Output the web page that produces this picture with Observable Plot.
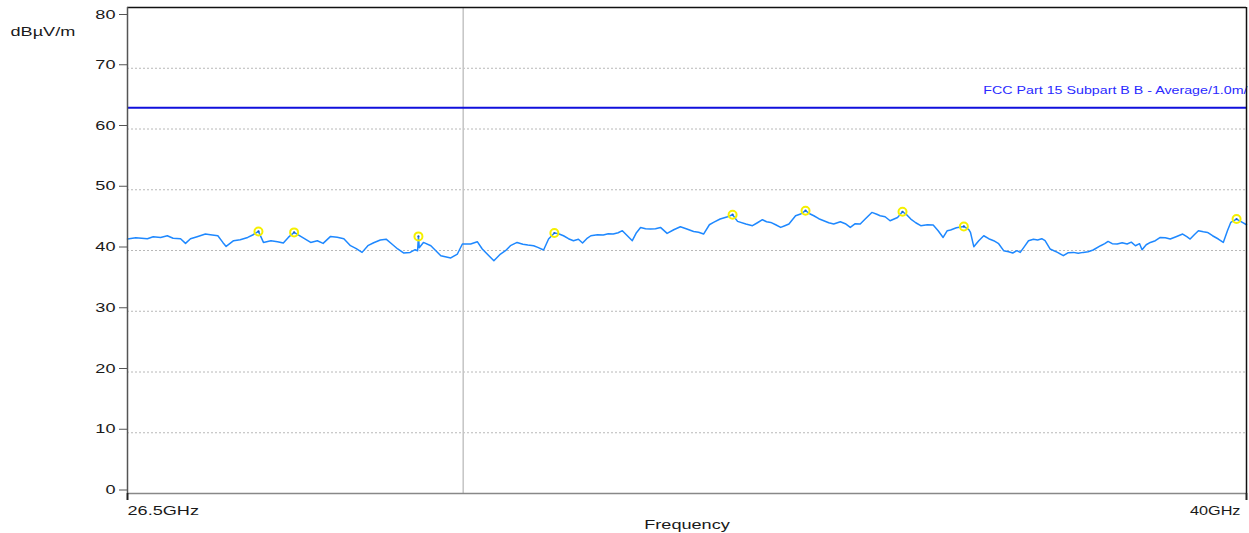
<!DOCTYPE html>
<html>
<head>
<meta charset="utf-8">
<script src="https://cdn.jsdelivr.net/npm/d3@7"></script>
<script src="https://cdn.jsdelivr.net/npm/@observablehq/plot@0.6"></script>
<style>
  html, body { margin: 0; padding: 0; background: #fff; }
  #chart svg { display: block; overflow: visible; }
</style>
</head>
<body>
<div id="chart"></div>
<script>
// Measured trace (GHz, dBµV/m)
const freqGHz = [26.50,26.60,26.74,26.81,26.90,26.98,27.05,27.14,27.20,27.26,27.34,27.44,27.50,27.59,27.65,27.69,27.78,27.86,27.95,28.01,28.08,28.14,28.23,28.31,28.38,28.44,28.51,28.61,28.71,28.79,28.86,28.95,29.03,29.11,29.19,29.26,29.33,29.40,29.47,29.55,29.62,29.70,29.76,29.83,29.91,29.97,30.00,30.01,30.02,30.07,30.16,30.22,30.28,30.40,30.48,30.54,30.64,30.72,30.78,30.86,30.92,31.00,31.06,31.12,31.20,31.27,31.33,31.40,31.45,31.52,31.58,31.65,31.70,31.76,31.82,31.88,31.94,31.99,32.04,32.09,32.17,32.24,32.30,32.36,32.42,32.47,32.53,32.59,32.64,32.69,32.75,32.81,32.87,32.93,33.01,33.09,33.17,33.24,33.33,33.39,33.45,33.52,33.57,33.65,33.74,33.80,33.86,33.96,34.04,34.10,34.16,34.21,34.26,34.32,34.38,34.43,34.48,34.56,34.62,34.68,34.73,34.78,34.84,34.90,34.96,35.02,35.10,35.16,35.22,35.28,35.34,35.40,35.48,35.54,35.58,35.64,35.70,35.79,35.85,35.90,35.95,36.01,36.07,36.15,36.22,36.28,36.34,36.39,36.43,36.50,36.59,36.65,36.67,36.71,36.77,36.83,36.89,36.95,37.01,37.07,37.13,37.18,37.23,37.27,37.32,37.37,37.43,37.48,37.53,37.57,37.63,37.72,37.79,37.85,37.91,37.97,38.03,38.09,38.15,38.24,38.29,38.33,38.38,38.44,38.50,38.56,38.61,38.66,38.71,38.74,38.79,38.84,38.90,38.96,39.02,39.08,39.15,39.23,39.28,39.32,39.37,39.42,39.48,39.53,39.59,39.66,39.72,39.77,39.81,39.88,39.95,40.00];
const levelDb = [41.89,42.11,41.94,42.27,42.15,42.43,42.02,41.94,41.17,41.94,42.27,42.71,42.60,42.43,41.33,40.67,41.61,41.78,42.15,42.55,43.14,41.33,41.61,41.45,41.23,42.15,42.98,42.15,41.33,41.61,41.17,42.32,42.19,41.94,40.79,40.30,39.69,40.79,41.28,41.73,41.86,40.95,40.25,39.59,39.69,40.13,39.97,42.32,40.46,41.33,40.79,39.97,39.14,38.77,39.42,41.07,41.07,41.45,40.25,39.14,38.32,39.42,39.97,40.79,41.33,41.04,40.90,40.79,40.51,40.08,41.89,42.88,42.76,42.43,41.94,41.61,41.86,41.23,41.94,42.43,42.60,42.55,42.76,42.71,42.93,43.26,42.43,41.61,42.93,43.80,43.59,43.54,43.59,43.80,42.81,43.42,43.91,43.59,43.14,43.01,42.71,44.24,44.62,45.18,45.56,45.89,44.79,44.36,44.08,44.57,45.07,44.74,44.62,44.24,43.80,44.08,44.36,45.72,46.00,46.55,46.05,45.72,45.23,44.90,44.57,44.36,44.74,44.41,43.80,44.41,44.36,45.18,46.27,45.97,45.72,45.56,44.90,45.44,46.38,45.89,45.18,44.57,44.08,44.24,44.19,43.26,42.15,43.26,43.37,43.75,43.96,43.42,42.98,40.63,41.61,42.43,41.94,41.61,41.12,39.97,39.80,39.59,39.97,39.69,40.63,41.61,41.86,41.73,41.94,41.61,40.25,39.69,39.14,39.64,39.69,39.56,39.69,39.80,40.08,40.79,41.12,41.50,41.12,41.07,41.28,41.07,41.37,40.79,41.12,40.13,40.95,41.33,41.61,42.15,42.11,41.89,42.27,42.71,42.27,41.89,42.60,43.26,43.09,42.98,42.43,41.89,41.33,43.26,44.62,45.18,44.62,44.24];

// Peak markers
const peakFreq = [28.08,28.51,30.01,31.65,33.80,34.68,35.85,36.59,39.88];
const peakLevel = [43.14,42.98,42.32,42.88,45.89,46.55,46.38,43.96,45.18];

// Limit line
const limitLevel = 63.5;
const limitLabel = "FCC Part 15 Subpart B B - Average/1.0m/";

// Cursor line
const cursorFreq = 30.55;

// Axis ticks
const yTicks = [0,10,20,30,40,50,60,70];
const yTopTick = [80];
const gridTicks = [10,20,30,40,50,60,70];
const xTicks = [26.5, 40];
const xTickLabels = ["26.5GHz", "40GHz"];
const yUnit = "dBµV/m";
const xTitle = "Frequency";

const trace = freqGHz.map((f, i) => ({f, v: levelDb[i]}));
const peaks = peakFreq.map((f, i) => ({f, v: peakLevel[i]}));

const font = "'Liberation Sans', Arial, sans-serif";
const fs = 12.5;

const plot = Plot.plot({
  width: 1249,
  height: 533,
  marginLeft: 127,
  marginRight: 3,
  marginTop: 7,
  marginBottom: 40,
  style: {fontFamily: font, fontSize: fs + "px", color: "#1a1a1a", background: "#fff"},
  x: {type: "linear", domain: [26.5, 40], axis: null},
  y: {type: "linear", domain: [0, 80], axis: null},
  marks: [
    Plot.ruleY(gridTicks, {stroke: "#b8b8b8", strokeWidth: 1, strokeDasharray: "2,2"}),
    Plot.ruleX([cursorFreq], {stroke: "#c4c4c4", strokeWidth: 1.5}),
    Plot.ruleY([limitLevel], {stroke: "#1010dc", strokeWidth: 2}),
    Plot.text([limitLabel], {x: 40, y: limitLevel, text: d => d, textAnchor: "end", dy: -17, dx: 1, fill: "#2a2aff", fontSize: 11.5}),
    Plot.line(trace, {x: "f", y: "v", stroke: "#1e88ff", strokeWidth: 1.5}),
    Plot.dot(peaks, {x: "f", y: "v", r: 4, stroke: "#f5f000", strokeWidth: 2, fill: "none"}),
    Plot.dot(peaks, {x: "f", y: "v", r: 1.1, fill: "#1e60c0"}),
    // frame lines
    Plot.ruleY([0], {stroke: "#888", strokeWidth: 1.5}),
    Plot.ruleY([80], {stroke: "#111", strokeWidth: 1.5}),
    Plot.ruleX([40], {stroke: "#111", strokeWidth: 1.5}),
    Plot.ruleX([26.5], {stroke: "#555", strokeWidth: 1.5}),
    // y axis
    Plot.axisY({ticks: yTicks, tickSize: 8, tickPadding: 4, dy: -3.5, tickFormat: d => String(d), fontSize: fs, stroke: "#555", label: null}),
    Plot.axisY({ticks: yTopTick, tickSize: 8, tickPadding: 4, dy: 7, tickFormat: d => String(d), fontSize: fs, stroke: "#555", label: null}),
    // x axis ticks
    Plot.axisX({ticks: xTicks, tickSize: 7, tickFormat: () => "", stroke: "#222", strokeWidth: 2, label: null}),
    Plot.text([xTicks[0]], {x: d => d, y: 0, text: () => xTickLabels[0], textAnchor: "start", dy: 17, dx: 0, fontSize: fs}),
    Plot.text([xTicks[1]], {x: d => d, y: 0, text: () => xTickLabels[1], textAnchor: "end", dy: 17, dx: -6, fontSize: fs}),
    Plot.text([xTitle], {frameAnchor: "bottom", text: d => d, dy: 31, lineAnchor: "middle", fontSize: fs}),
    Plot.text([yUnit], {frameAnchor: "top-left", text: d => d, dx: -117, dy: 24, textAnchor: "start", lineAnchor: "middle", fontSize: fs})
  ]
});

// The reference glyphs are horizontally stretched; widen text accordingly.
function stretchFor(s) {
  if (s === limitLabel) return 1.24;
  if (s === xTickLabels[1]) return 1.3;
  return 1.45;
}
plot.querySelectorAll("text").forEach(el => {
  const k = stretchFor(el.textContent);
  let t = el.getAttribute("transform") || "";
  const x = el.getAttribute("x");
  if (x != null) { t += ` translate(${x},0)`; el.removeAttribute("x"); }
  el.setAttribute("transform", `${t} scale(${k},1)`);
});

document.getElementById("chart").appendChild(plot);
</script>
</body>
</html>
